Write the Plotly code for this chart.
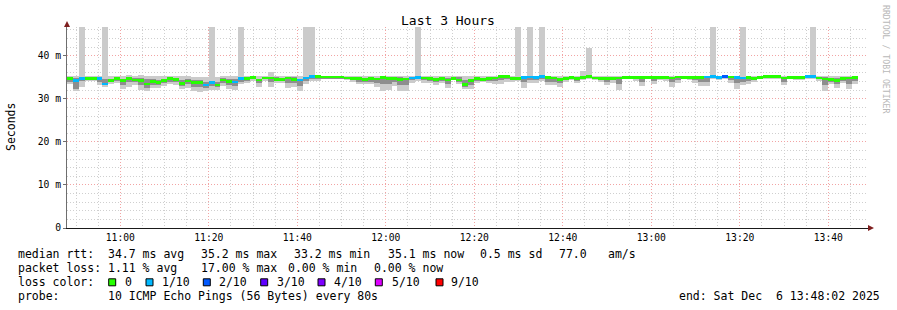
import plotly.graph_objects as go
from datetime import datetime, timedelta

# ---------------- data ----------------
median_rtt = [
    34.75, 34.29, 34.75, 34.75, 34.75, 34.67, 33.43, 34.21, 34.67, 34.21,
    34.75, 34.37, 34.21, 33.43, 34.06, 33.74, 34.29, 34.75, 34.52, 33.59,
    34.14, 33.74, 33.74, 33.20, 33.74, 33.20, 34.37, 34.00, 33.90, 34.75,
    34.75, 34.90, 34.37, 34.83, 34.83, 34.52, 34.45, 34.83, 34.52, 34.37,
    34.83, 35.21, 35.21, 35.06, 35.06, 35.06, 35.06, 34.83, 34.67, 34.75,
    34.52, 34.75, 34.60, 34.98, 34.67, 34.67, 34.52, 34.60, 34.83, 34.90,
    34.83, 34.67, 34.52, 34.67, 34.37, 34.75, 34.37, 33.28, 34.29, 34.67,
    34.52, 34.67, 34.83, 35.21, 35.21, 34.75, 34.75, 34.90, 35.06, 34.90,
    35.13, 34.98, 34.83, 34.52, 34.67, 34.90, 34.67, 34.90, 35.13, 34.83,
    34.75, 34.67, 34.75, 34.83, 34.98, 34.98, 34.98, 34.90, 34.98, 34.90,
    34.98, 34.90, 34.83, 35.06, 34.98, 34.90, 34.90, 34.98, 35.06, 35.21,
    34.98, 35.21, 35.06, 34.90, 34.83, 34.90, 34.75, 34.98, 35.21, 35.21,
    35.21, 34.83, 34.90, 34.90, 34.90, 35.13, 35.13, 34.83, 34.60, 34.52,
    34.29, 34.67, 34.83, 34.98,
]
lost_pings = [
    0, 1, 1, 0, 0, 1, 1, 0, 0, 0,
    0, 0, 0, 0, 0, 0, 0, 0, 0, 0,
    0, 0, 0, 1, 1, 0, 0, 0, 1, 1,
    0, 0, 0, 0, 0, 0, 0, 0, 0, 1,
    1, 1, 0, 0, 0, 0, 0, 0, 0, 0,
    0, 0, 0, 0, 0, 0, 0, 0, 1, 1,
    0, 0, 0, 0, 0, 0, 0, 0, 0, 0,
    0, 0, 0, 0, 0, 0, 0, 1, 1, 1,
    1, 0, 0, 0, 0, 0, 0, 0, 0, 0,
    0, 0, 0, 0, 0, 0, 0, 0, 0, 0,
    0, 0, 0, 0, 0, 0, 0, 0, 1, 1,
    1, 2, 0, 1, 1, 0, 0, 0, 0, 0,
    0, 0, 0, 0, 0, 1, 1, 0, 0, 0,
    0, 0, 0, 0,
]
rtt_max = [
    35.4, 35.3, 60.0, 35.3, 35.3, 35.2, 60.0, 35.3, 35.4, 35.3,
    35.5, 35.4, 35.5, 35.4, 35.2, 35.2, 35.2, 35.4, 35.4, 35.3,
    35.2, 35.1, 35.0, 35.0, 60.0, 35.0, 35.2, 35.3, 35.3, 60.0,
    35.3, 35.3, 35.2, 35.2, 36.2, 35.3, 35.2, 35.3, 35.3, 35.2,
    60.0, 60.0, 35.4, 35.3, 35.3, 35.3, 35.3, 35.2, 35.2, 35.2,
    35.2, 35.2, 35.2, 35.3, 35.4, 35.3, 35.3, 35.3, 35.3, 60.0,
    35.2, 35.2, 35.2, 35.2, 35.2, 35.4, 35.3, 35.2, 35.3, 35.2,
    35.4, 35.3, 35.3, 35.4, 35.4, 35.2, 60.0, 35.3, 60.0, 35.3,
    60.0, 35.3, 35.2, 35.2, 35.2, 35.2, 35.2, 36.5, 41.9, 35.2,
    35.2, 35.2, 35.2, 35.2, 35.2, 35.2, 35.2, 35.2, 35.2, 35.2,
    35.2, 35.2, 35.2, 35.4, 35.2, 35.2, 35.2, 35.2, 35.3, 60.0,
    35.3, 35.4, 35.2, 35.2, 60.0, 35.2, 35.2, 35.2, 35.4, 35.4,
    35.4, 35.2, 35.2, 35.2, 35.2, 35.3, 60.0, 35.2, 35.3, 35.3,
    35.2, 35.2, 35.2, 35.3,
]
rtt_min = [
    33.35, 31.80, 32.81, 34.13, 34.13, 33.12, 32.81, 33.35, 33.59, 32.19,
    32.81, 33.12, 32.04, 31.80, 32.58, 32.58, 32.97, 33.35, 33.12, 32.19,
    32.58, 31.80, 31.57, 31.80, 32.04, 32.04, 32.97, 32.19, 32.04, 33.35,
    33.74, 34.13, 32.81, 34.13, 32.81, 33.74, 33.74, 32.58, 32.81, 31.80,
    33.35, 34.13, 34.13, 34.52, 34.67, 34.67, 34.67, 34.36, 33.90, 33.35,
    33.35, 33.35, 32.81, 31.80, 32.04, 32.97, 31.80, 31.80, 33.74, 34.13,
    33.74, 33.74, 33.12, 33.74, 32.58, 34.36, 33.35, 32.19, 32.19, 33.74,
    33.90, 33.74, 33.35, 33.35, 33.90, 33.90, 34.13, 32.58, 33.59, 33.59,
    34.13, 33.12, 33.12, 32.81, 33.90, 34.36, 33.74, 34.36, 34.52, 34.36,
    33.90, 33.12, 33.74, 32.04, 34.52, 34.52, 34.13, 32.97, 34.52, 33.35,
    34.36, 34.13, 32.81, 33.59, 34.52, 34.36, 33.74, 32.97, 32.97, 34.52,
    34.36, 34.52, 33.74, 32.35, 33.12, 33.35, 33.90, 34.52, 34.67, 34.67,
    34.67, 33.12, 34.52, 34.36, 34.36, 34.52, 34.52, 34.13, 31.80, 33.35,
    32.58, 33.74, 32.19, 33.35,
]
smoke_inner_lo = [
    34.0, 32.2, 34.2, 34.5, 34.5, 34.0, 33.1, 33.8, 34.2, 33.3,
    33.8, 33.8, 33.2, 32.6, 33.3, 33.2, 33.6, 34.0, 33.8, 33.0,
    33.4, 32.8, 32.7, 32.6, 33.0, 32.7, 33.6, 33.1, 33.0, 34.0,
    34.2, 34.5, 33.6, 34.5, 33.8, 34.1, 34.1, 33.7, 33.7, 33.0,
    34.1, 34.7, 34.7, 34.8, 34.8, 34.8, 34.8, 34.6, 34.3, 34.0,
    34.0, 34.0, 33.7, 33.4, 33.4, 33.8, 33.2, 33.2, 34.3, 34.5,
    34.3, 34.2, 33.8, 34.2, 33.5, 34.5, 33.9, 32.8, 33.3, 34.2,
    34.2, 34.2, 34.1, 34.3, 34.6, 34.4, 34.5, 33.8, 34.3, 34.3,
    34.6, 34.0, 34.0, 33.7, 34.3, 34.6, 34.2, 34.6, 34.8, 34.6,
    34.3, 33.9, 34.3, 33.5, 34.8, 34.8, 34.6, 34.0, 34.8, 34.1,
    34.7, 34.5, 33.9, 34.3, 34.8, 34.6, 34.3, 34.0, 34.0, 34.9,
    34.7, 34.9, 34.4, 33.6, 34.0, 34.1, 34.3, 34.8, 34.9, 34.9,
    34.9, 34.0, 34.7, 34.6, 34.6, 34.8, 34.8, 34.5, 33.2, 34.0,
    33.5, 34.2, 33.5, 34.2,
]
smoke_inner_hi = [
    35.1, 34.8, 35.0, 35.0, 35.0, 34.9, 34.6, 34.7, 35.0, 34.7,
    35.1, 34.8, 34.8, 34.5, 34.5, 34.3, 34.7, 35.0, 34.9, 34.3,
    34.6, 34.3, 34.3, 34.0, 34.2, 33.8, 34.8, 34.6, 34.5, 35.0,
    35.0, 35.1, 34.7, 35.0, 35.1, 35.0, 34.8, 35.0, 35.0, 34.7,
    35.1, 35.3, 35.3, 35.2, 35.2, 35.2, 35.2, 35.0, 35.0, 35.0,
    34.9, 35.0, 34.9, 35.2, 35.0, 35.0, 35.0, 34.9, 35.1, 35.1,
    35.0, 34.9, 34.9, 34.9, 34.9, 35.1, 35.0, 34.4, 34.7, 34.9,
    34.9, 34.9, 35.0, 35.3, 35.3, 35.0, 35.0, 35.1, 35.2, 35.1,
    35.2, 35.2, 35.1, 34.9, 35.0, 35.1, 35.0, 35.1, 35.3, 35.1,
    35.0, 35.0, 35.0, 35.1, 35.1, 35.1, 35.1, 35.1, 35.1, 35.1,
    35.1, 35.1, 35.0, 35.3, 35.1, 35.1, 35.1, 35.1, 35.2, 35.3,
    35.2, 35.3, 35.2, 35.1, 35.0, 35.1, 35.0, 35.1, 35.3, 35.3,
    35.3, 35.0, 35.1, 35.1, 35.1, 35.3, 35.3, 35.0, 35.0, 34.9,
    34.8, 34.9, 35.0, 35.2,
]

first_step = datetime(2025, 12, 6, 10, 47, 58)
STEP_S = 80
time_ticks = ["11:00", "11:20", "11:40", "12:00", "12:20", "12:40", "13:00", "13:20", "13:40"]
y_tickvals = [0, 10, 20, 30, 40]
y_ticktext = ["0", "10 m", "20 m", "30 m", "40 m"]

loss_levels = [0, 1, 2, 3, 4, 5, 9]
loss_labels = ["0", "1/10", "2/10", "3/10", "4/10", "5/10", "9/10"]
loss_palette = ["#26ff00", "#00b8ff", "#0059ff", "#5e00ff", "#7e00ff", "#dd00ff", "#ff0000"]

# ---------------- layout geometry ----------------
W, H = 897, 310
ML, MR, MT, MB = 67, 29, 27, 82
PW, PH = W - ML - MR, H - MT - MB
FONT = "DejaVu Sans Mono"

day = datetime(2025, 12, 6)
px_per_min = 4.425
ref_px = 120.3  # pixel of 11:00


def t_at(px):
    return datetime(2025, 12, 6, 11, 0) + timedelta(minutes=(px - ref_px) / px_per_min)


def pxx(px):
    return (px - ML) / PW


def pxy(py):
    return (H - MB - py) / PH


def color_for(n):
    best = loss_levels[0]
    for lv in loss_levels:
        if n >= lv:
            best = lv
    return loss_palette[loss_levels.index(best)]


n = len(median_rtt)
times = [first_step + timedelta(seconds=STEP_S * i + STEP_S / 2) for i in range(n)]
bw = STEP_S * 1000

fig = go.Figure()
fig.add_trace(go.Bar(
    x=times, base=rtt_min, y=[hi - lo for hi, lo in zip(rtt_max, rtt_min)],
    width=bw, marker=dict(color="#cbcbcb", line=dict(width=0)), hoverinfo="skip"))
fig.add_trace(go.Bar(
    x=times, base=smoke_inner_lo, y=[hi - lo for hi, lo in zip(smoke_inner_hi, smoke_inner_lo)],
    width=bw, marker=dict(color="#8e8e8e", line=dict(width=0)), hoverinfo="skip"))
fig.add_trace(go.Bar(
    x=times, base=[m - 0.3 for m in median_rtt], y=[0.6] * n,
    width=bw, marker=dict(color=[color_for(v) for v in lost_pings], line=dict(width=0)),
    hoverinfo="skip"))

major_grid = "#f2a4a4"
minor_grid = "#cfcfcf"
dots = "1px,2px"

fig.update_layout(
    width=W, height=H,
    margin=dict(l=ML, r=MR, t=MT, b=MB, pad=0),
    paper_bgcolor="white", plot_bgcolor="white",
    barmode="overlay", bargap=0, showlegend=False,
    font=dict(family=FONT, color="#000000", size=10),
    xaxis=dict(
        type="date",
        range=[t_at(ML), t_at(ML + PW)],
        tickvals=[datetime.strptime("2025-12-06 " + s, "%Y-%m-%d %H:%M") for s in time_ticks],
        ticktext=time_ticks,
        tickfont=dict(family=FONT, size=9.7, color="#000"),
        showgrid=True, gridcolor=major_grid, griddash=dots, gridwidth=1,
        minor=dict(dtick=5 * 60 * 1000, tick0="2025-12-06 10:00:00", showgrid=True,
                   gridcolor=minor_grid, griddash=dots, gridwidth=1),
        showline=True, linecolor="#1a1a1a", linewidth=1,
        ticks="", zeroline=False, fixedrange=True,
    ),
    yaxis=dict(
        range=[0, PH / 4.307],
        tickvals=y_tickvals, ticktext=y_ticktext,
        tickfont=dict(family=FONT, size=9.7, color="#000"),
        showgrid=True, gridcolor=major_grid, griddash=dots, gridwidth=1,
        minor=dict(dtick=2, showgrid=True, gridcolor=minor_grid, griddash=dots, gridwidth=1),
        showline=True, linecolor="#6e6e6e", linewidth=1,
        ticks="outside", ticklen=3, tickcolor="#6e6e6e",
        zeroline=False, fixedrange=True,
        title=dict(text="Seconds", font=dict(family=FONT, size=11.5), standoff=0),
    ),
)

# y title placed manually
fig.update_yaxes(title=None)

ann = []


def txt(s, px, py, size=11.5, color="#000", xanchor="left", angle=0):
    ann.append(dict(text=s, x=pxx(px), y=pxy(py), xref="paper", yref="paper",
                    xanchor=xanchor, yanchor="middle", showarrow=False, textangle=angle,
                    font=dict(family=FONT, size=size, color=color), borderpad=0))


txt("Last 3 Hours", 448, 20, size=13, xanchor="center")
txt("Seconds", 11, 127, size=11.5, xanchor="center", angle=-90)
txt("RRDTOOL / TOBI OETIKER", 886, 59, size=8.2, color="#b8b8b8", xanchor="center", angle=90)

row1 = [("median rtt:", 16.7), ("34.7 ms avg", 107.3), ("35.2 ms max", 200), ("33.2 ms min", 293.3),
        ("35.1 ms now", 386.7), ("0.5 ms sd", 479.3), ("77.0", 558.3), ("am/s", 607.3)]
row2 = [("packet loss:", 16.7), ("1.11 % avg", 107.3), ("17.00 % max", 200), ("0.00 % min", 286.7),
        ("0.00 % now", 372.7)]
for s, x in row1:
    txt(s, x, 254)
for s, x in row2:
    txt(s, x, 268.3)
txt("loss color:", 16.7, 282.3)
sq_x = [108.7, 146, 203.3, 260.7, 318, 375.3, 436]
lab_x = [124, 160.7, 218.3, 276, 333.3, 390.7, 450]
shapes = []
for c, lab, sx, lx in zip(loss_palette, loss_labels, sq_x, lab_x):
    txt(lab, lx, 282.3)
    shapes.append(dict(type="rect", xref="paper", yref="paper",
                       x0=pxx(sx), x1=pxx(sx + 7), y0=pxy(285.8), y1=pxy(278.8),
                       fillcolor=c, line=dict(color="#000", width=1)))
txt("probe:", 16.7, 296)
txt("10 ICMP Echo Pings (56 Bytes) every 80s", 107.3, 296)
txt("end: Sat Dec  6 13:48:02 2025", 678.3, 296)

# axis arrows
shapes.append(dict(type="path", xref="paper", yref="paper", xsizemode="pixel", ysizemode="pixel",
                   xanchor=1, yanchor=0, path="M 0,3 L 6,0 L 0,-3 Z",
                   fillcolor="#7f1f1f", line=dict(color="#7f1f1f", width=0)))
shapes.append(dict(type="path", xref="paper", yref="paper", xsizemode="pixel", ysizemode="pixel",
                   xanchor=0, yanchor=1, path="M -3,0 L 3,0 L 0,6 Z",
                   fillcolor="#7f1f1f", line=dict(color="#7f1f1f", width=0)))

fig.update_layout(annotations=ann, shapes=shapes)
fig.write_html("out.html", config=dict(displayModeBar=False))
